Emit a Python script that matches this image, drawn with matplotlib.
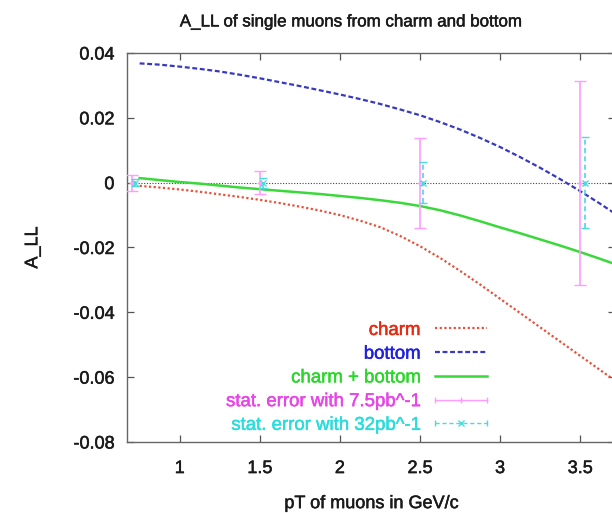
import matplotlib
matplotlib.use("Agg")
import matplotlib.pyplot as plt
import matplotlib.patheffects as pe
from matplotlib.text import Text
from matplotlib.lines import Line2D
from matplotlib.legend_handler import HandlerLine2D, HandlerTuple
from matplotlib.ticker import FuncFormatter

plt.rcParams['font.family'] = ['Liberation Sans', 'DejaVu Sans']

# curves
pt = [0.75, 0.875, 1.0, 1.125, 1.25, 1.375, 1.5, 1.625, 1.75, 1.875, 2.0, 2.125,
      2.25, 2.375, 2.5, 2.625, 2.75, 2.875, 3.0, 3.125, 3.25, 3.375, 3.5, 3.625, 3.75]
charm = [-0.0010, -0.0015, -0.0021, -0.0028, -0.0036, -0.0044, -0.0053, -0.0063,
         -0.0074, -0.0086, -0.0100, -0.0117, -0.0137, -0.0164, -0.0196, -0.0232,
         -0.0272, -0.0314, -0.0358, -0.0402, -0.0446, -0.0490, -0.0534, -0.0578,
         -0.0622]
bottom = [0.0368, 0.0364, 0.0358, 0.0351, 0.0343, 0.0333, 0.0322, 0.0310,
          0.0298, 0.0285, 0.0272, 0.0258, 0.0243, 0.0226, 0.0208, 0.0187,
          0.0164, 0.0138, 0.0110, 0.0079, 0.0046, 0.0011, -0.0026, -0.0065,
          -0.0106]
both = [0.0014, 0.0008, 0.0002, -0.0003, -0.0009, -0.0015, -0.0020, -0.0025,
        -0.0030, -0.0035, -0.0041, -0.0047, -0.0054, -0.0062, -0.0072, -0.0085,
        -0.0101, -0.0119, -0.0138, -0.0156, -0.0175, -0.0194, -0.0214, -0.0235,
        -0.0257]

# statistical errors
pt_75 = [0.70, 1.50, 2.50, 3.50]
err_75 = [0.0025, 0.0035, 0.0139, 0.0315]
pt_32 = [0.72, 1.52, 2.52, 3.53]
err_32 = [0.0010, 0.0015, 0.0064, 0.0140]
zeros = [0, 0, 0, 0]

xticks = [1, 1.5, 2, 2.5, 3, 3.5]
yticks = [-0.08, -0.06, -0.04, -0.02, 0, 0.02, 0.04]

c_red, c_blue, c_green = '#e8503a', '#3838c0', '#3ad83a'
c_mag, c_cyan = '#ff9cff', '#48dcdc'
txt = '#1a1a1a'

fig = plt.figure(figsize=(6.12, 5.13), dpi=100)
ax = fig.add_axes([0.2075, 0.1384, 0.798, 0.7583])

ax.axhline(0, color='#444444', ls=(0, (1, 1.5)), lw=0.8, zorder=1)

l_charm, = ax.plot(pt, charm, color=c_red, ls=(0, (1, 1.1)), lw=1.6)
l_bottom, = ax.plot(pt, bottom, color=c_blue, ls=(0, (2.2, 1.2)), lw=1.6)
l_both, = ax.plot(pt, both, color=c_green, ls='-', lw=1.8)

ax.errorbar(pt_75, zeros, yerr=err_75, fmt='+', color=c_mag, ms=5,
            elinewidth=1.2, capsize=4, mew=1.0, zorder=3)
eb = ax.errorbar(pt_32, zeros, yerr=err_32, fmt='x', color=c_cyan, ms=4,
                 elinewidth=1.2, capsize=3, mew=1.0, zorder=4)
eb[2][0].set_linestyle((0, (3, 2)))

ax.set_xlim(0.671, 3.72)
ax.set_ylim(-0.08, 0.04)
ax.set_xticks(xticks)
ax.set_yticks(yticks)
fmt = FuncFormatter(lambda v, p: '%g' % round(v, 3))
ax.xaxis.set_major_formatter(fmt)
ax.yaxis.set_major_formatter(fmt)
ax.tick_params(direction='in', length=5, width=0.9, color='#555555',
               top=True, right=True, labelsize=13, labelcolor=txt)
ax.tick_params(axis='x', pad=13)
ax.tick_params(axis='y', pad=9)
for s in ax.spines.values():
    s.set_color('#666666')
    s.set_linewidth(1.0)

ax.set_xlabel('pT of muons in GeV/c', fontsize=13, color=txt, labelpad=13)
ax.set_ylabel('A_LL', fontsize=13, color=txt, labelpad=23)
fig.text(351 / 612, 1 - 22 / 513, 'A_LL of single muons from charm and bottom',
         ha='center', va='center', fontsize=12.2, color=txt)

# gnuplot style key: line, marker in middle, caps at the ends
h_mag = Line2D([], [], color=c_mag, lw=1.0, marker='+', ms=5)
cap_mag = Line2D([], [], color=c_mag, ls='none', marker='|', ms=5)
h_cyan = Line2D([], [], color=c_cyan, lw=1.0, ls=(0, (3, 2)), marker='x', ms=4)
cap_cyan = Line2D([], [], color=c_cyan, ls='none', marker='|', ms=5)
leg = ax.legend([l_charm, l_bottom, l_both, (h_mag, cap_mag), (h_cyan, cap_cyan)],
                ['charm', 'bottom', 'charm + bottom',
                 'stat. error with 7.5pb^-1', 'stat. error with 32pb^-1'],
                loc='lower right', bbox_to_anchor=(0.757, -0.003),
                frameon=False, markerfirst=False, fontsize=13.4,
                handlelength=2.8, handletextpad=0.8, labelspacing=0.36,
                borderpad=0, numpoints=1,
                labelcolor=['#e82a10', '#2020e0', '#2ad82a', '#e844e8', '#2adcdc'],
                handler_map={tuple: HandlerTuple(ndivide=1),
                             cap_mag: HandlerLine2D(numpoints=2, marker_pad=0),
                             cap_cyan: HandlerLine2D(numpoints=2, marker_pad=0)})

# thicken the text a little, the original looks heavier than regular
for t in fig.findobj(Text):
    t.set_path_effects([pe.withStroke(linewidth=0.35, foreground=t.get_color())])

fig.savefig('out.png', dpi=100)
